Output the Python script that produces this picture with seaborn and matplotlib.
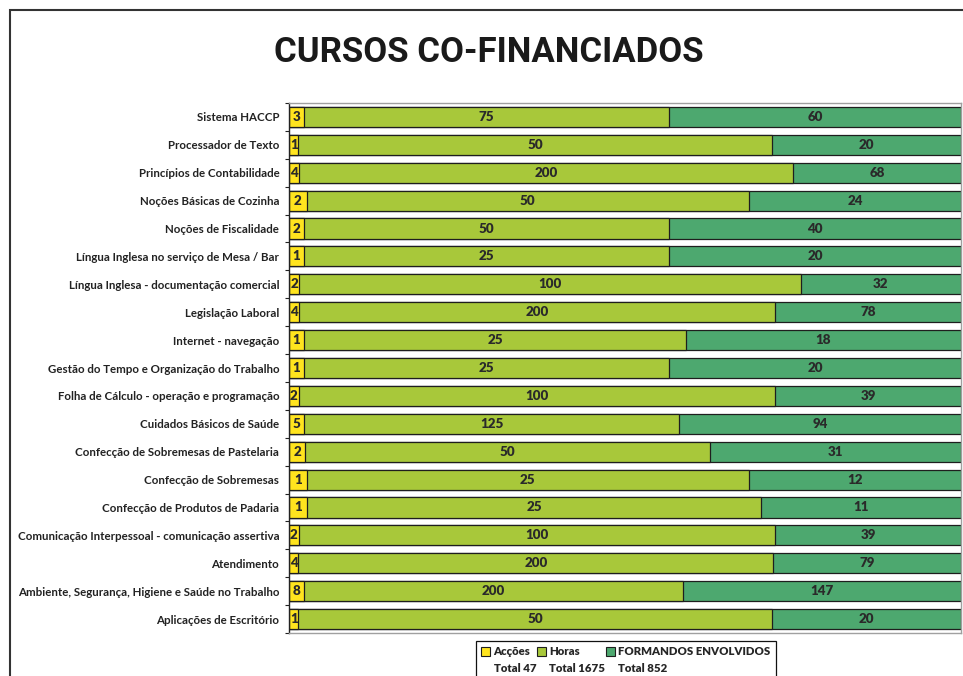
import matplotlib
matplotlib.use("Agg")
import matplotlib.pyplot as plt
from matplotlib.patches import Rectangle
import seaborn as sns
import pandas as pd
import numpy as np

cursos = [
    "Sistema HACCP",
    "Processador de Texto",
    "Princípios de Contabilidade",
    "Noções Básicas de Cozinha",
    "Noções de Fiscalidade",
    "Língua Inglesa no serviço de Mesa / Bar",
    "Língua Inglesa - documentação comercial",
    "Legislação Laboral",
    "Internet - navegação",
    "Gestão do Tempo e Organização do Trabalho",
    "Folha de Cálculo - operação e programação",
    "Cuidados Básicos de Saúde",
    "Confecção de Sobremesas de Pastelaria",
    "Confecção de Sobremesas",
    "Confecção de Produtos de Padaria",
    "Comunicação Interpessoal - comunicação assertiva",
    "Atendimento",
    "Ambiente, Segurança, Higiene e Saúde no Trabalho",
    "Aplicações de Escritório",
]
accoes = [3, 1, 4, 2, 2, 1, 2, 4, 1, 1, 2, 5, 2, 1, 1, 2, 4, 8, 1]
horas = [75, 50, 200, 50, 50, 25, 100, 200, 25, 25, 100, 125, 50, 25, 25, 100, 200, 200, 50]
formandos = [60, 20, 68, 24, 40, 20, 32, 78, 18, 20, 39, 94, 31, 12, 11, 39, 79, 147, 20]
series_names = ["Acções", "Horas", "FORMANDOS ENVOLVIDOS"]

YELLOW = "#FFE41E"
LIME = "#A8C83A"
GREEN = "#4DA86F"
EDGE = "#1e1e1e"

sns.set_theme(style="white")
plt.rcParams["font.family"] = ["Lato", "DejaVu Sans"]

df = pd.DataFrame({"Curso": cursos, "A": accoes, "H": horas, "F": formandos})
tot = df[["A", "H", "F"]].sum(axis=1)
df["pA"] = df["A"] / tot * 100
df["pH"] = df["H"] / tot * 100
df["pF"] = df["F"] / tot * 100
df["c1"] = df["pA"]
df["c2"] = df["pA"] + df["pH"]
df["c3"] = df["c2"] + df["pF"]

fig = plt.figure(figsize=(9.63, 6.76), dpi=100)
ax = fig.add_axes([289 / 963, 1 - 633 / 676, (961 - 289) / 963, (633 - 103) / 676])

kw = dict(orient="h", width=0.72, saturation=1, edgecolor=EDGE, linewidth=0.9, ax=ax)
sns.barplot(data=df, x="c3", y="Curso", color=GREEN, **kw)
sns.barplot(data=df, x="c2", y="Curso", color=LIME, **kw)
sns.barplot(data=df, x="c1", y="Curso", color=YELLOW, **kw)

lab_kw = dict(ha="center", va="center", fontsize=9.6, fontweight="heavy", color="#2a2a2a")
for i, row in df.iterrows():
    ax.text(row["pA"] / 2, i, str(row["A"]), **lab_kw)
    ax.text(row["c1"] + row["pH"] / 2, i, str(row["H"]), **lab_kw)
    ax.text(row["c2"] + row["pF"] / 2, i, str(row["F"]), **lab_kw)

ax.set_xlim(0, 100)
ax.set_ylim(len(cursos) - 0.5, -0.5)
ax.set_xlabel("")
ax.set_ylabel("")
ax.set_xticks([])
ax.tick_params(axis="y", length=0, pad=7, labelsize=8.3, labelcolor="#222222")
for t in ax.get_yticklabels():
    t.set_fontweight("bold")
ax.set_yticks(np.arange(-0.5, len(cursos), 1.0), minor=True)
ax.tick_params(axis="y", which="minor", length=3, width=0.8, color="#222222", left=True)
for s in ["top", "right", "bottom"]:
    ax.spines[s].set_color("#a0a0a0")
    ax.spines[s].set_linewidth(1.0)
ax.spines["left"].set_color("#222222")
ax.spines["left"].set_linewidth(1.0)

fig.text(489 / 963, 1 - 52 / 676, "CURSOS CO-FINANCIADOS", ha="center", va="center",
         fontsize=25, fontweight="bold",
         family=["Roboto", "Liberation Sans", "DejaVu Sans"], color="#1a1a1a")

# outer chart border
fig.patches.append(Rectangle((10 / 963, -0.2), 1.2, 1.2 - 10 / 676, transform=fig.transFigure,
                             fill=False, edgecolor="#333333", linewidth=1.5, clip_on=False))

totals = [sum(accoes), sum(horas), sum(formandos)]
colors = [YELLOW, LIME, GREEN]
handles, labels = [], []
for name, c, t in zip(series_names, colors, totals):
    handles.append(Rectangle((0, 0), 1, 1, facecolor=c, edgecolor=EDGE, linewidth=0.8))
    labels.append(name)
    handles.append(Rectangle((0, 0), 1, 1, facecolor="none", edgecolor="none"))
    labels.append(f"Total {t}")
leg = fig.legend(handles, labels, ncol=3, loc="upper left",
                 bbox_to_anchor=(476 / 963, 1 - 641 / 676), borderaxespad=0,
                 frameon=True, fancybox=False, framealpha=1, edgecolor="#111111",
                 handlelength=0.8, handleheight=0.8, handletextpad=0.3, columnspacing=0.05,
                 labelspacing=0.5, borderpad=0.45,
                 prop={"size": 8.2, "weight": "heavy"})
leg.get_frame().set_linewidth(0.9)

fig.savefig("out.png", dpi=100)
